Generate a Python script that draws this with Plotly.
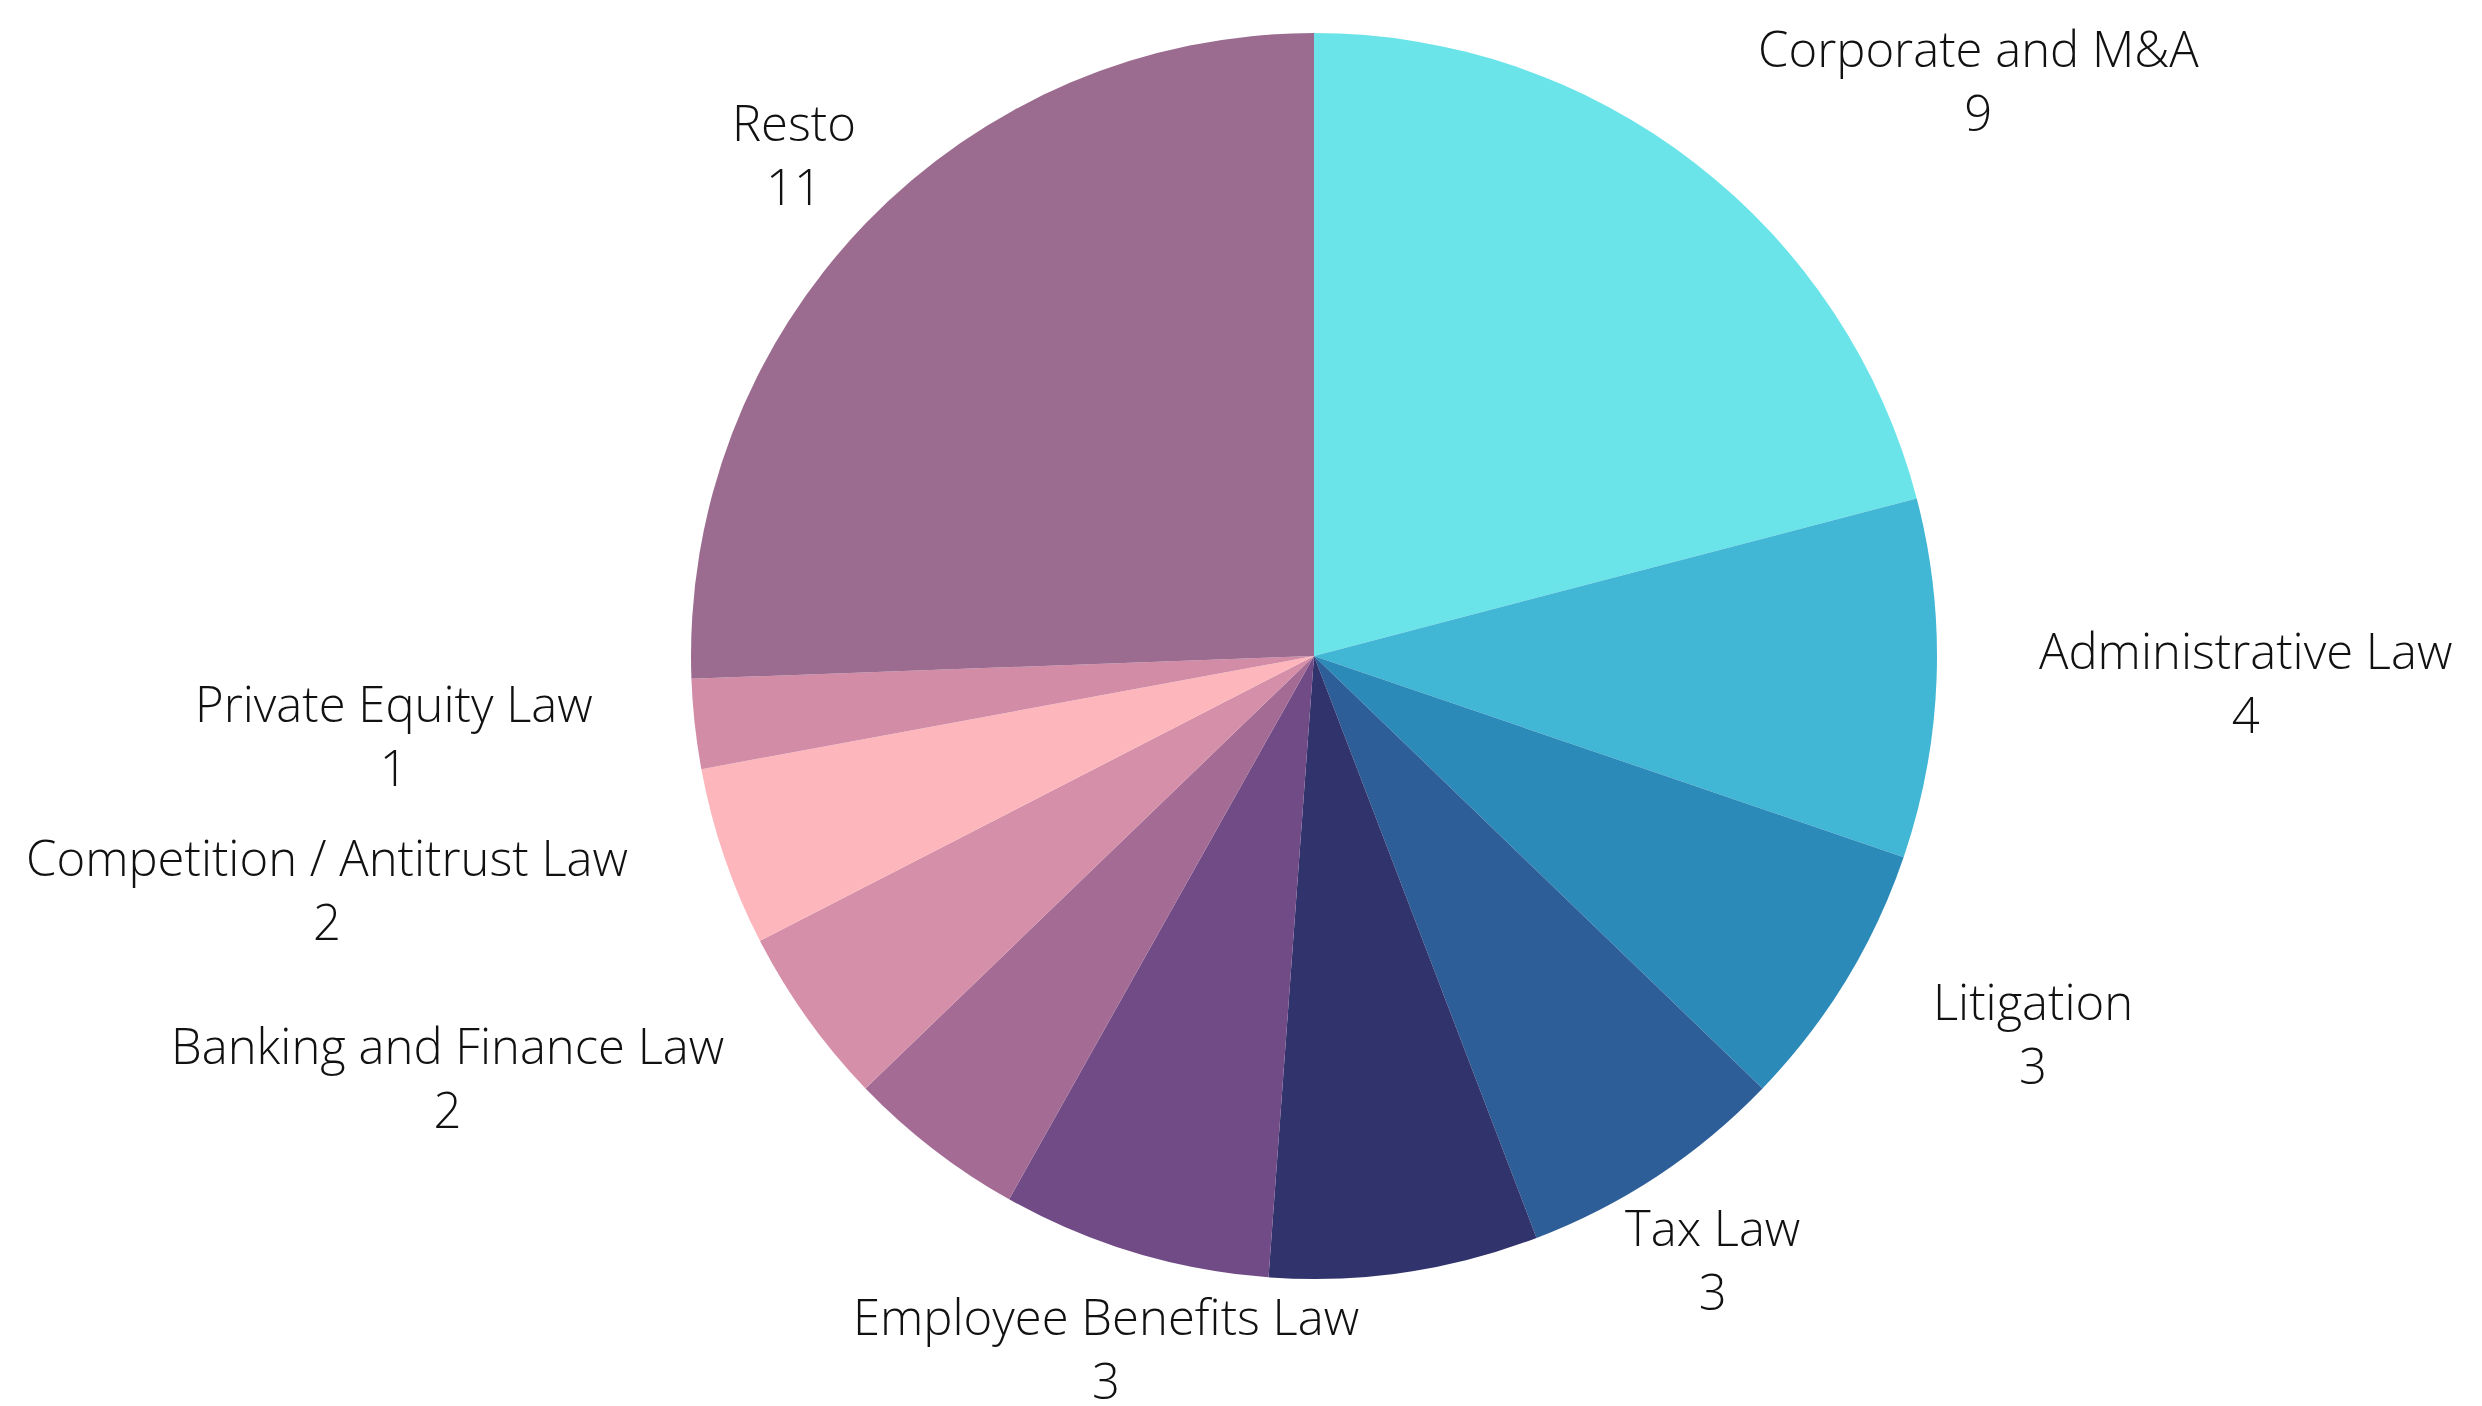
import math
import plotly.graph_objects as go

# slices, clockwise from 12 o'clock
labels = ["Corporate and M&A", "Administrative Law", "Litigation", "Tax Law",
          "Unlabelled A", "Employee Benefits Law", "Unlabelled B",
          "Banking and Finance Law", "Competition / Antitrust Law",
          "Private Equity Law", "Resto"]
values = [9, 4, 3, 3, 3, 3, 2, 2, 2, 1, 11]
shown = [True, True, True, True, False, True, False, True, True, True, True]
colors = ["#6BE4E9", "#42B6D5", "#2C8AB9", "#2E5E98", "#30336C", "#714B85",
          "#A46C95", "#D68FA8", "#FDB7BC", "#D28CA6", "#9B6C8F"]

W, H = 2482, 1406
body_margin = 8               # default page margin of the html body
cx, cy, R = 1314 - body_margin, 656 - body_margin, 623   # pie centre / radius in px
gap = 100                     # label distance beyond the rim
anchors = ["left", "left", "left", "center", None, "center", None,
           "right", "right", "right", "center"]
nudge = {0: (0, -4)}

fig = go.Figure(go.Pie(
    labels=labels, values=values, sort=False, direction="clockwise",
    rotation=0, marker=dict(colors=colors, line=dict(width=0)),
    textinfo="none", hoverinfo="label+value", showlegend=False,
    domain=dict(x=[(cx - R) / W, (cx + R) / W],
                y=[1 - (cy + R) / H, 1 - (cy - R) / H]),
))

font = dict(family="Open Sans", size=49, color="#111111", weight=300)
total = sum(values)
cum = 0
for i, v in enumerate(values):
    mid = math.radians((cum + v / 2) / total * 360)
    cum += v
    if not shown[i]:
        continue
    dx, dy = nudge.get(i, (0, 0))
    px = cx + (R + gap) * math.sin(mid) + dx
    py = cy - (R + gap) * math.cos(mid) + dy
    fig.add_annotation(x=px / W, y=1 - py / H, xref="paper", yref="paper",
                       text=f"{labels[i]}<br>{v}", showarrow=False,
                       xanchor=anchors[i], yanchor="middle", align="center",
                       font=font)

fig.update_layout(width=W, height=H, margin=dict(l=0, r=0, t=0, b=0),
                  paper_bgcolor="white", plot_bgcolor="white")

fig.write_html("out.html")
